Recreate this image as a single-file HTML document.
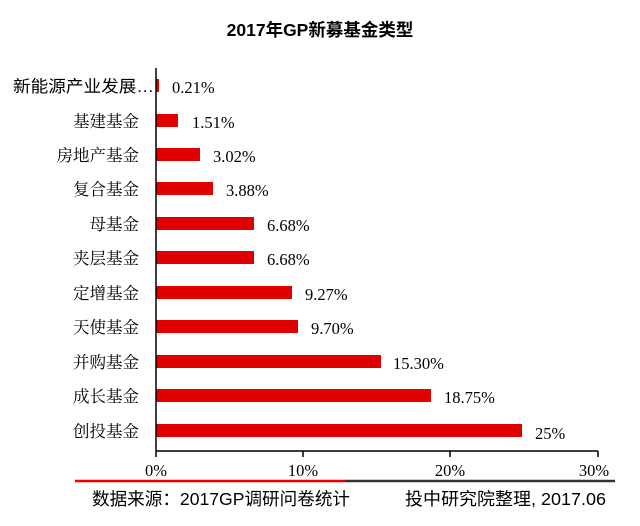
<!DOCTYPE html>
<html><head><meta charset="utf-8"><style>
body{margin:0;background:#fff;width:640px;height:521px;overflow:hidden}
svg text{font-family:"Liberation Serif","Noto Serif CJK SC",serif}
svg text.s{font-family:"Liberation Sans","Noto Sans CJK SC",sans-serif}
</style></head><body>
<svg width="640" height="521" xmlns="http://www.w3.org/2000/svg">
<text x="320" y="36" text-anchor="middle" font-size="17.5" font-weight="bold" class="s">2017年GP新募基金类型</text>
<g fill="#e00000">
<rect x="156" y="79" width="3" height="13"/>
<rect x="156" y="114" width="22" height="13"/>
<rect x="156" y="148" width="44" height="13"/>
<rect x="156" y="182" width="57" height="13"/>
<rect x="156" y="217" width="98" height="13"/>
<rect x="156" y="251" width="98" height="13"/>
<rect x="156" y="286" width="136" height="13"/>
<rect x="156" y="320" width="142" height="13"/>
<rect x="156" y="355" width="225" height="13"/>
<rect x="156" y="389" width="275" height="13"/>
<rect x="156" y="424" width="366" height="13"/>
</g>
<g font-size="16.5" text-anchor="end">
<text x="154" y="92" class="s" textLength="141" lengthAdjust="spacingAndGlyphs">新能源产业发展…</text>
<text x="139" y="127">基建基金</text>
<text x="139" y="161">房地产基金</text>
<text x="139" y="195">复合基金</text>
<text x="139" y="230">母基金</text>
<text x="139" y="264">夹层基金</text>
<text x="139" y="299">定增基金</text>
<text x="139" y="333">天使基金</text>
<text x="139" y="368">并购基金</text>
<text x="139" y="402">成长基金</text>
<text x="139" y="437">创投基金</text>
</g>
<g font-size="16.5">
<text x="172" y="93">0.21%</text>
<text x="192" y="128">1.51%</text>
<text x="213" y="162">3.02%</text>
<text x="226" y="196">3.88%</text>
<text x="267" y="231">6.68%</text>
<text x="267" y="265">6.68%</text>
<text x="305" y="300">9.27%</text>
<text x="311" y="334">9.70%</text>
<text x="393" y="369">15.30%</text>
<text x="444" y="403">18.75%</text>
<text x="535" y="439">25%</text>
</g>
<g stroke="#000" stroke-width="1.5">
<line x1="156" y1="68" x2="156" y2="457"/>
<line x1="156" y1="451" x2="598" y2="451"/>
<line x1="303" y1="451" x2="303" y2="457"/>
<line x1="450" y1="451" x2="450" y2="457"/>
<line x1="598" y1="451" x2="598" y2="457"/>
</g>
<g font-size="16.5" text-anchor="middle">
<text x="156" y="476">0%</text>
<text x="303" y="476">10%</text>
<text x="450" y="476">20%</text>
<text x="594" y="476">30%</text>
</g>
<line x1="75" y1="481" x2="345" y2="481" stroke="#e00" stroke-width="2.5"/>
<line x1="345" y1="481" x2="615" y2="481" stroke="#333" stroke-width="2.5"/>
<g font-size="17.5">
<text x="92" y="505" class="s" textLength="258" lengthAdjust="spacingAndGlyphs">数据来源：2017GP调研问卷统计</text>
<text x="606" y="505" text-anchor="end" class="s" textLength="201" lengthAdjust="spacingAndGlyphs">投中研究院整理, 2017.06</text>
</g>
</svg>
</body></html>
